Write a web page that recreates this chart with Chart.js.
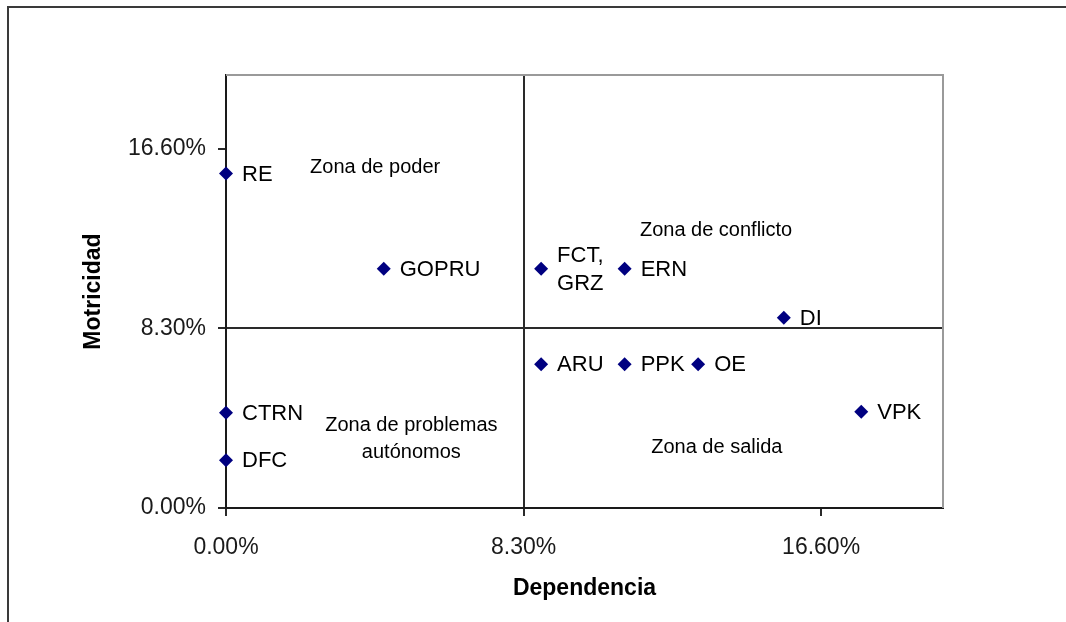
<!DOCTYPE html>
<html lang="es">
<head>
<meta charset="UTF-8">
<title>Motricidad vs Dependencia</title>
<script src="https://cdn.jsdelivr.net/npm/chart.js"></script>
<style>
    html, body { margin: 0; padding: 0; background: #fff; }
    #wrap { width: 1066px; height: 622px; }
</style>
</head>
<body>
<div id="wrap"><canvas id="grafico" width="1066" height="622"></canvas></div>
<script>
    // variables (dependencia = x, motricidad = y), en %
    const variables = ['RE', 'GOPRU', 'FCT,\nGRZ', 'ERN', 'DI', 'ARU', 'PPK', 'OE', 'VPK', 'CTRN', 'DFC'];
    const dependencia = [0, 4.40, 8.79, 11.12, 15.56, 8.79, 11.12, 13.17, 17.72, 0, 0];
    const motricidad = [15.45, 11.05, 11.05, 11.05, 8.79, 6.64, 6.64, 6.64, 4.44, 4.40, 2.21];
    const marcas = [0, 8.3, 16.6];

    // zonas del plano
    const zonas = ['Zona de poder', 'Zona de conflicto', 'Zona de problemas\nautónomos', 'Zona de salida'];
    const zonasX = [4.16, 13.67, 5.17, 13.69];
    const zonasY = [15.72, 12.82, 3.20, 2.81];

    const puntos = dependencia.map(function (x, i) { return { x: x, y: motricidad[i] }; });
    const fuente = '"Liberation Sans", Arial, sans-serif';

    const marco = {
        id: 'marco',
        beforeDraw: function (chart) {
            const ctx = chart.ctx;
            ctx.save();
            ctx.strokeStyle = '#3a3a3a';
            ctx.lineWidth = 2;
            ctx.beginPath();
            ctx.moveTo(8, 700);
            ctx.lineTo(8, 7);
            ctx.lineTo(1070, 7);
            ctx.stroke();
            ctx.restore();
        },
        beforeDatasetsDraw: function (chart) {
            const a = chart.chartArea;
            const ctx = chart.ctx;
            ctx.save();
            ctx.strokeStyle = '#9a9a9a';
            ctx.lineWidth = 2;
            ctx.beginPath();
            ctx.moveTo(a.left, a.top);
            ctx.lineTo(a.right, a.top);
            ctx.lineTo(a.right, a.bottom);
            ctx.stroke();

            // textos de las zonas
            ctx.fillStyle = '#000';
            ctx.font = '20px ' + fuente;
            ctx.textAlign = 'center';
            ctx.textBaseline = 'middle';
            for (let i = 0; i < zonas.length; i++) {
                const lineas = zonas[i].split('\n');
                const cx = chart.scales.x.getPixelForValue(zonasX[i]);
                const cy = chart.scales.y.getPixelForValue(zonasY[i]);
                const h = 27;
                for (let j = 0; j < lineas.length; j++) {
                    ctx.fillText(lineas[j], cx, cy + (j - (lineas.length - 1) / 2) * h);
                }
            }
            ctx.restore();
        },
        afterDatasetsDraw: function (chart) {
            const ctx = chart.ctx;
            const meta = chart.getDatasetMeta(0);
            ctx.save();
            ctx.fillStyle = '#000';
            ctx.font = '22px ' + fuente;
            ctx.textBaseline = 'middle';
            ctx.textAlign = 'center';
            meta.data.forEach(function (p, i) {
                const lineas = variables[i].split('\n');
                let ancho = 0;
                lineas.forEach(function (l) { ancho = Math.max(ancho, ctx.measureText(l).width); });
                const x0 = p.x + 16 + ancho / 2;
                for (let j = 0; j < lineas.length; j++) {
                    ctx.fillText(lineas[j], x0, p.y + 1 + (j - (lineas.length - 1) / 2) * 28);
                }
            });
            ctx.restore();
        }
    };

    function rejilla(ctx) {
        return ctx.tick && Math.abs(ctx.tick.value - 8.3) < 0.001 ? '#2a2a2a' : 'rgba(0,0,0,0)';
    }

    new Chart(document.getElementById('grafico'), {
        type: 'scatter',
        data: {
            datasets: [{
                label: 'Variables',
                data: puntos,
                backgroundColor: '#000080',
                borderColor: '#000080',
                pointStyle: 'rectRot',
                pointRadius: 7,
                borderWidth: 0,
                clip: false
            }]
        },
        options: {
            responsive: false,
            animation: false,
            layout: { padding: { left: 80, top: 75, right: 123, bottom: 20 } },
            plugins: {
                legend: { display: false },
                tooltip: { enabled: false }
            },
            scales: {
                x: {
                    type: 'linear',
                    min: 0,
                    max: 20,
                    afterBuildTicks: function (s) { s.ticks = marcas.map(function (v) { return { value: v }; }); },
                    afterFit: function (s) { s.height = 94; },
                    ticks: {
                        autoSkip: false,
                        maxRotation: 0,
                        padding: 18,
                        color: '#1a1a1a',
                        font: { family: fuente, size: 23 },
                        callback: function (v) { return v.toFixed(2) + '%'; }
                    },
                    grid: { color: rejilla, lineWidth: 2, tickColor: '#2a2a2a', tickLength: 8 },
                    border: { color: '#1a1a1a', width: 2 },
                    title: {
                        display: true,
                        text: 'Dependencia',
                        color: '#000',
                        padding: 0,
                        font: { family: fuente, size: 23, weight: 'bold' }
                    }
                },
                y: {
                    type: 'linear',
                    min: 0,
                    max: 20,
                    afterBuildTicks: function (s) { s.ticks = marcas.map(function (v) { return { value: v }; }); },
                    afterFit: function (s) { s.width = 146; },
                    ticks: {
                        autoSkip: false,
                        padding: 12,
                        color: '#1a1a1a',
                        font: { family: fuente, size: 23 },
                        callback: function (v) { return v.toFixed(2) + '%'; }
                    },
                    grid: { color: rejilla, lineWidth: 2, tickColor: '#2a2a2a', tickLength: 8 },
                    border: { color: '#1a1a1a', width: 2 },
                    title: {
                        display: true,
                        text: 'Motricidad',
                        color: '#000',
                        padding: 0,
                        font: { family: fuente, size: 23, weight: 'bold' }
                    }
                }
            }
        },
        plugins: [marco]
    });
</script>
</body>
</html>
